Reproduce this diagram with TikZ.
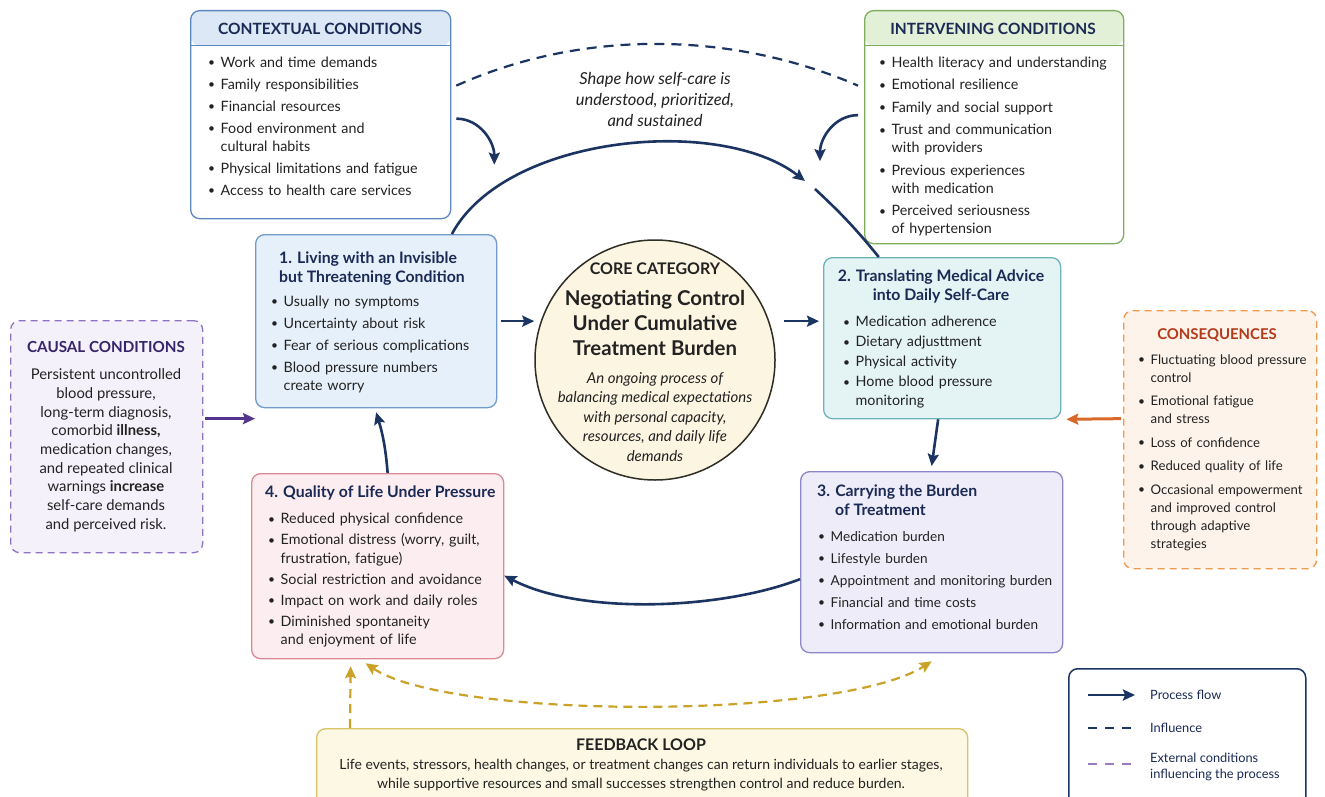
\documentclass[tikz,border=0pt]{standalone}
\usepackage{fontspec}
\setmainfont{Lato}
\usetikzlibrary{arrows.meta}

\definecolor{navy}{HTML}{1C3461}
\definecolor{ink}{HTML}{222222}
\definecolor{titlecol}{HTML}{1B2A55}
\definecolor{ctxline}{HTML}{5B86BF}
\definecolor{ctxfill}{HTML}{DCE8F5}
\definecolor{intline}{HTML}{7FAF5E}
\definecolor{intfill}{HTML}{E3F0D8}
\definecolor{onefill}{HTML}{E6F0FA}
\definecolor{oneline}{HTML}{6F9ACB}
\definecolor{twofill}{HTML}{E4F3F4}
\definecolor{twoline}{HTML}{6DB3BA}
\definecolor{threefill}{HTML}{EEECF8}
\definecolor{threeline}{HTML}{8C87C9}
\definecolor{fourfill}{HTML}{FCEEF0}
\definecolor{fourline}{HTML}{D98A96}
\definecolor{corefill}{HTML}{FCF5E2}
\definecolor{coreline}{HTML}{2E2E24}
\definecolor{causfill}{HTML}{F5F1FA}
\definecolor{causline}{HTML}{8F72C4}
\definecolor{caustitle}{HTML}{35256B}
\definecolor{causarrow}{HTML}{55348E}
\definecolor{consfill}{HTML}{FDF3EA}
\definecolor{consline}{HTML}{EE9A4E}
\definecolor{constitle}{HTML}{B43A1A}
\definecolor{consarrow}{HTML}{D9692A}
\definecolor{fbfill}{HTML}{FCF8E3}
\definecolor{fbline}{HTML}{D9C268}
\definecolor{gold}{HTML}{C9A227}
\definecolor{extdash}{HTML}{9B7BC0}

% 列表项
\newcommand{\itm}[1]{\hangindent=12.5pt\hangafter=1\noindent\hbox to 12.5pt{\raisebox{0.7pt}{\fontsize{12}{12}\selectfont\textbullet}\hfil}#1\par}

\tikzset{
  box/.style={draw, rounded corners=9pt, line width=1.3pt, inner sep=0pt, anchor=north west},
  head/.style 2 args={path picture={
      \fill[#2] (path picture bounding box.north west) rectangle ([yshift=-35pt]path picture bounding box.north east);
      \draw[#1, line width=1.3pt] ([yshift=-35pt]path picture bounding box.north west) -- ([yshift=-35pt]path picture bounding box.north east);}},
  list/.style={anchor=north west, inner sep=0pt, text width=#1, align=left, text=ink,
      font={\fontsize{14.3}{18.5}\selectfont\parskip=3.5pt\relax}},
  list/.default=260,
  ttl/.style={inner sep=0pt, text=titlecol, font={\fontsize{15.8}{19}\selectfont\bfseries}},
  caps/.style={inner sep=0pt, font={\fontsize{15.5}{18}\selectfont\bfseries}},
  flow/.style={draw=navy, line width=2.6pt, ->},
  infl/.style={draw=navy, line width=2.2pt, dash pattern=on 10pt off 7pt},
  fbk/.style={draw=gold, line width=2.2pt, dash pattern=on 9pt off 6pt},
}

\begin{document}
\begin{tikzpicture}[x=1pt, y=1pt, >={Stealth[length=12pt, width=11pt, inset=2pt]}]
\useasboundingbox (0,0) rectangle (1325,-797);
\fill[white] (0,0) rectangle (1325,-797);

% 条件框
\node[box, draw=ctxline, fill=white, head={ctxline}{ctxfill}, minimum width=260, minimum height=208] (ctx) at (190,-10) {};
\node[caps, text=titlecol] (ctxt) at (320,-29) {CONTEXTUAL CONDITIONS};
\node[list, font={\fontsize{14.3}{18}\selectfont\parskip=4pt\relax}] (ctxl) at (208,-56.5) {\itm{Work and time demands}
  \itm{Family responsibilities}
  \itm{Financial resources}
  \itm{Food environment and\break cultural habits}
  \itm{Physical limitations and fatigue}
  \itm{Access to health care services}};

\node[box, draw=intline, fill=white, head={intline}{intfill}, minimum width=259, minimum height=233] (int) at (864,-10) {};
\node[caps, text=titlecol] (intt) at (993,-29) {INTERVENING CONDITIONS};
\node[list, font={\fontsize{14.3}{18}\selectfont\parskip=4.5pt\relax}] (intl) at (879,-56.5) {\itm{Health literacy and understanding}
  \itm{Emotional resilience}
  \itm{Family and social support}
  \itm{Trust and communication\break with providers}
  \itm{Previous experiences\break with medication}
  \itm{Perceived seriousness\break of hypertension}};

\node[box, draw=causline, fill=causfill, dashed, dash pattern=on 7pt off 5pt, minimum width=192, minimum height=232] (caus) at (10,-320) {};
\node[caps, text=caustitle, font={\fontsize{15.2}{18}\selectfont\bfseries}] (caust) at (106,-347) {CAUSAL CONDITIONS};
\node[inner sep=0pt, anchor=north, align=center, text=ink, font={\fontsize{14.8}{18.7}\selectfont}] (causl) at (106,-368.5) {Persistent uncontrolled\\ blood pressure,\\ long-term diagnosis,\\ comorbid \textbf{illness,}\\ medication changes,\\ and repeated clinical\\ warnings \textbf{increase}\\ self-care demands\\ and perceived risk.};

\node[box, draw=consline, fill=consfill, dashed, dash pattern=on 7pt off 5pt, minimum width=193, minimum height=258] (cons) at (1123,-310) {};
\node[caps, text=constitle, font={\fontsize{14.9}{18}\selectfont\bfseries}] (const) at (1217,-335) {CONSEQUENCES};
\node[list=180, font={\fontsize{13.2}{18}\selectfont\parskip=5.5pt\relax}] (consl) at (1138,-354.5) {\itm{Fluctuating blood pressure\break control}
  \itm{Emotional fatigue\break and stress}
  \itm{Loss of confidence}
  \itm{Reduced quality of life}
  \itm{Occasional empowerment\break and improved control\break through adaptive\break strategies}};

% 四个阶段
\node[box, draw=oneline, fill=onefill, minimum width=241, minimum height=173] (one) at (255,-234) {};
\node[ttl, anchor=north west, align=left] (onet) at (279,-251.5) {1. Living with an Invisible\\ but Threatening Condition};
\node[list] (onel) at (271,-295.5) {\itm{Usually no symptoms}
  \itm{Uncertainty about risk}
  \itm{Fear of serious complications}
  \itm{Blood pressure numbers\break create worry}};

\node[box, draw=twoline, fill=twofill, minimum width=237, minimum height=161] (two) at (823,-257) {};
\node[ttl, anchor=north, align=center] (twot) at (941,-269.5) {2. Translating Medical Advice\\ into Daily Self-Care};
\node[list, font={\fontsize{14.3}{18.5}\selectfont\parskip=1.5pt\relax}] (twol) at (843,-316) {\itm{Medication adherence}
  \itm{Dietary adjusttment}
  \itm{Physical activity}
  \itm{Home blood pressure\break monitoring}};

\node[box, draw=threeline, fill=threefill, minimum width=262, minimum height=181] (three) at (800,-471) {};
\node[ttl, anchor=north west, align=left] (threet) at (817,-484.5) {3. Carrying the Burden\\ \hspace*{18pt}of Treatment};
\node[list, font={\fontsize{13.6}{18.5}\selectfont\parskip=3.5pt\relax}] (threel) at (818,-531) {\itm{Medication burden}
  \itm{Lifestyle burden}
  \itm{Appointment and monitoring burden}
  \itm{Financial and time costs}
  \itm{Information and emotional burden}};

\node[box, draw=fourline, fill=fourfill, minimum width=252, minimum height=185] (four) at (251,-473) {};
\node[ttl, anchor=north west] (fourt) at (265,-485.5) {4. Quality of Life Under Pressure};
\node[list, font={\fontsize{14.3}{18.3}\selectfont\parskip=2.8pt\relax}] (fourl) at (268,-513) {\itm{Reduced physical confidence}
  \itm{Emotional distress (worry, guilt,\break frustration, fatigue)}
  \itm{Social restriction and avoidance}
  \itm{Impact on work and daily roles}
  \itm{Diminished spontaneity\break and enjoyment of life}};

% 核心类别
\node[circle, draw=coreline, fill=corefill, line width=1.5pt, minimum size=240] (core) at (655,-360) {};
\node[inner sep=0pt, text=ink, font={\fontsize{16}{18}\selectfont\bfseries}] (coret) at (655,-268.5) {CORE CATEGORY};
\node[inner sep=0pt, align=center, text=ink, font={\fontsize{20.4}{25}\selectfont\bfseries}] (corem) at (655,-323) {Negotiating Control\\ Under Cumulative\\ Treatment Burden};
\node[inner sep=0pt, align=center, text=ink, font={\fontsize{15}{19.5}\selectfont\itshape}] (cored) at (655,-417) {An ongoing process of\\ balancing medical expectations\\ with personal capacity,\\ resources, and daily life\\ demands};

\node[inner sep=0pt, align=center, text=ink, font={\fontsize{16.5}{21}\selectfont\itshape}] (note) at (655,-99) {Shape how self-care is\\ understood, prioritized,\\ and sustained};

% 反馈框与图例
\node[box, draw=fbline, fill=fbfill, minimum width=651, minimum height=80] (fb) at (316,-728) {};
\node[inner sep=0pt, text=ink, font={\fontsize{16}{18}\selectfont\bfseries}] (fbt) at (641,-745) {FEEDBACK LOOP};
\node[inner sep=0pt, align=center, text=ink, font={\fontsize{14}{19}\selectfont}] (fbl) at (641,-775.5) {Life events, stressors, health changes, or treatment changes can return individuals to earlier stages,\\ while supportive resources and small successes strengthen control and reduce burden.};

\node[box, draw=navy, fill=white, line width=1.5pt, minimum width=237, minimum height=140] (leg) at (1068,-668) {};
\node[inner sep=0pt, anchor=west, text=titlecol, font={\fontsize{12.8}{16}\selectfont}] (lgflow) at (1150,-695) {Process flow};
\node[inner sep=0pt, anchor=west, text=titlecol, font={\fontsize{12.8}{16}\selectfont}] (lginf) at (1150,-728) {Influence};
\node[inner sep=0pt, anchor=west, align=left, text=titlecol, font={\fontsize{12.8}{16}\selectfont}] (lgext) at (1150,-767) {External conditions\\ influencing the process};
\draw[flow] ([xshift=-62]lgflow.west) -- ([xshift=-15]lgflow.west);
\draw[infl, dash pattern=on 9pt off 8pt] ([xshift=-62]lginf.west) -- ([xshift=-18]lginf.west);
\draw[draw=extdash, line width=2pt, dash pattern=on 9pt off 8pt] ([xshift=-62,yshift=3]lgext.west) -- ([xshift=-18,yshift=3]lgext.west);

% 连线
\coordinate (gapa) at (805,-181);
\coordinate (gapb) at (815,-189);
\draw[flow] (one.49) .. controls (505,-135) and (720,-115) .. (gapa);
\draw[draw=navy, line width=2.6pt] (gapb) to[bend left=4] (two.128);
\draw[infl] ([xshift=5,yshift=29]ctx.east) .. controls (580,-30) and (730,-30) .. ([xshift=-6,yshift=41.5]int.west);
\draw[flow] ([xshift=5,yshift=-4]ctx.east) to[out=0, in=90] ++(38,-46);
\draw[flow] ([xshift=-6,yshift=12]int.west) to[out=180, in=90] ++(-38,-46);

\draw[flow] ([xshift=4]one.east) -- (one.east -| core.west);
\draw[flow] ([xshift=8]core.east |- one.east) -- ([xshift=-4]two.west |- one.east);
\draw[flow] ([xshift=-4]two.south) -- ([yshift=5]three.north);
\draw[flow] ([yshift=-17]three.west) .. controls (720,-610) and (580,-615) .. ([yshift=-9.5]four.east);
\draw[flow] ([xshift=10]four.north) to[bend right=6] ([yshift=-4]one.south);

\draw[draw=causarrow, line width=3pt, ->] ([xshift=2,yshift=18]caus.east) -- ([yshift=18]caus.east -| one.west);
\draw[draw=consarrow, line width=3pt, ->] ([xshift=-2,yshift=21]cons.west) -- ([xshift=5]two.south east);

\draw[fbk, ->] ([xshift=34]fb.north west) -- ([xshift=-27,yshift=-7]four.south);
\draw[fbk, <->] ([xshift=-12,yshift=-4]four.south) .. controls (450,-720) and (840,-720) .. ([yshift=-8]three.south);

\end{tikzpicture}
\end{document}
